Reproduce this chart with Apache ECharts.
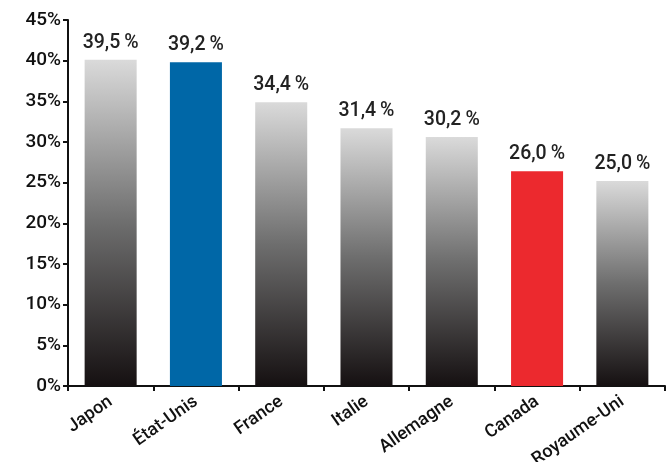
<!DOCTYPE html>
<html>
<head>
<meta charset="utf-8">
<script src="https://cdn.jsdelivr.net/npm/echarts@6/dist/echarts.min.js"></script>
<style>
html,body{margin:0;padding:0;background:#fff;}
#c{width:669px;height:462px;}
</style>
</head>
<body>
<div id="c"></div>
<script>
const categories = ['Japon', 'État-Unis', 'France', 'Italie', 'Allemagne', 'Canada', 'Royaume-Uni'];
const values = [40.1, 39.8, 34.9, 31.7, 30.6, 26.4, 25.2];
const valueLabels = ['39,5', '39,2', '34,4', '31,4', '30,2', '26,0', '25,0'];
const yTicks = [0, 5, 10, 15, 20, 25, 30, 35, 40, 45];

const FONT = "Roboto, 'Liberation Sans', sans-serif";
const grayGrad = {
  type: 'linear', x: 0, y: 0, x2: 0, y2: 1,
  colorStops: [
    { offset: 0, color: '#dadada' },
    { offset: 0.5, color: '#6e6e6e' },
    { offset: 1, color: '#151011' }
  ]
};
const special = { 'État-Unis': '#0067a7', 'Canada': '#ec292e' };

const data = values.map((v, i) => ({
  value: v,
  itemStyle: { color: special[categories[i]] || grayGrad }
}));

const chart = echarts.init(document.getElementById('c'));
chart.setOption({
  animation: false,
  grid: { left: 68, right: 4, top: 20, bottom: 76, containLabel: false, outerBoundsMode: 'none' },
  xAxis: {
    type: 'category',
    data: categories,
    axisLine: { lineStyle: { color: '#111', width: 2 } },
    axisTick: { show: true, length: 5, lineStyle: { color: '#111', width: 2 } },
    axisLabel: {
      interval: 0, rotate: 35, color: '#111', fontFamily: FONT, fontWeight: 500,
      fontSize: 18, margin: 14
    }
  },
  yAxis: {
    type: 'value',
    min: yTicks[0],
    max: yTicks[yTicks.length - 1],
    interval: 5,
    axisLine: { show: true, lineStyle: { color: '#111', width: 2 } },
    axisTick: { show: true, length: 5, lineStyle: { color: '#111', width: 2 } },
    splitLine: { show: false },
    axisLabel: {
      color: '#111', fontFamily: FONT, fontWeight: 500, fontSize: 19, margin: 7,
      formatter: v => v + '%'
    }
  },
  series: [{
    type: 'bar',
    data: data,
    barWidth: '61%',
    label: {
      show: true, position: 'top', distance: 7,
      color: '#222', fontFamily: FONT, fontWeight: 500, fontSize: 19.5,
      formatter: p => valueLabels[p.dataIndex] + '\u2009%'
    }
  }]
});
</script>
</body>
</html>
